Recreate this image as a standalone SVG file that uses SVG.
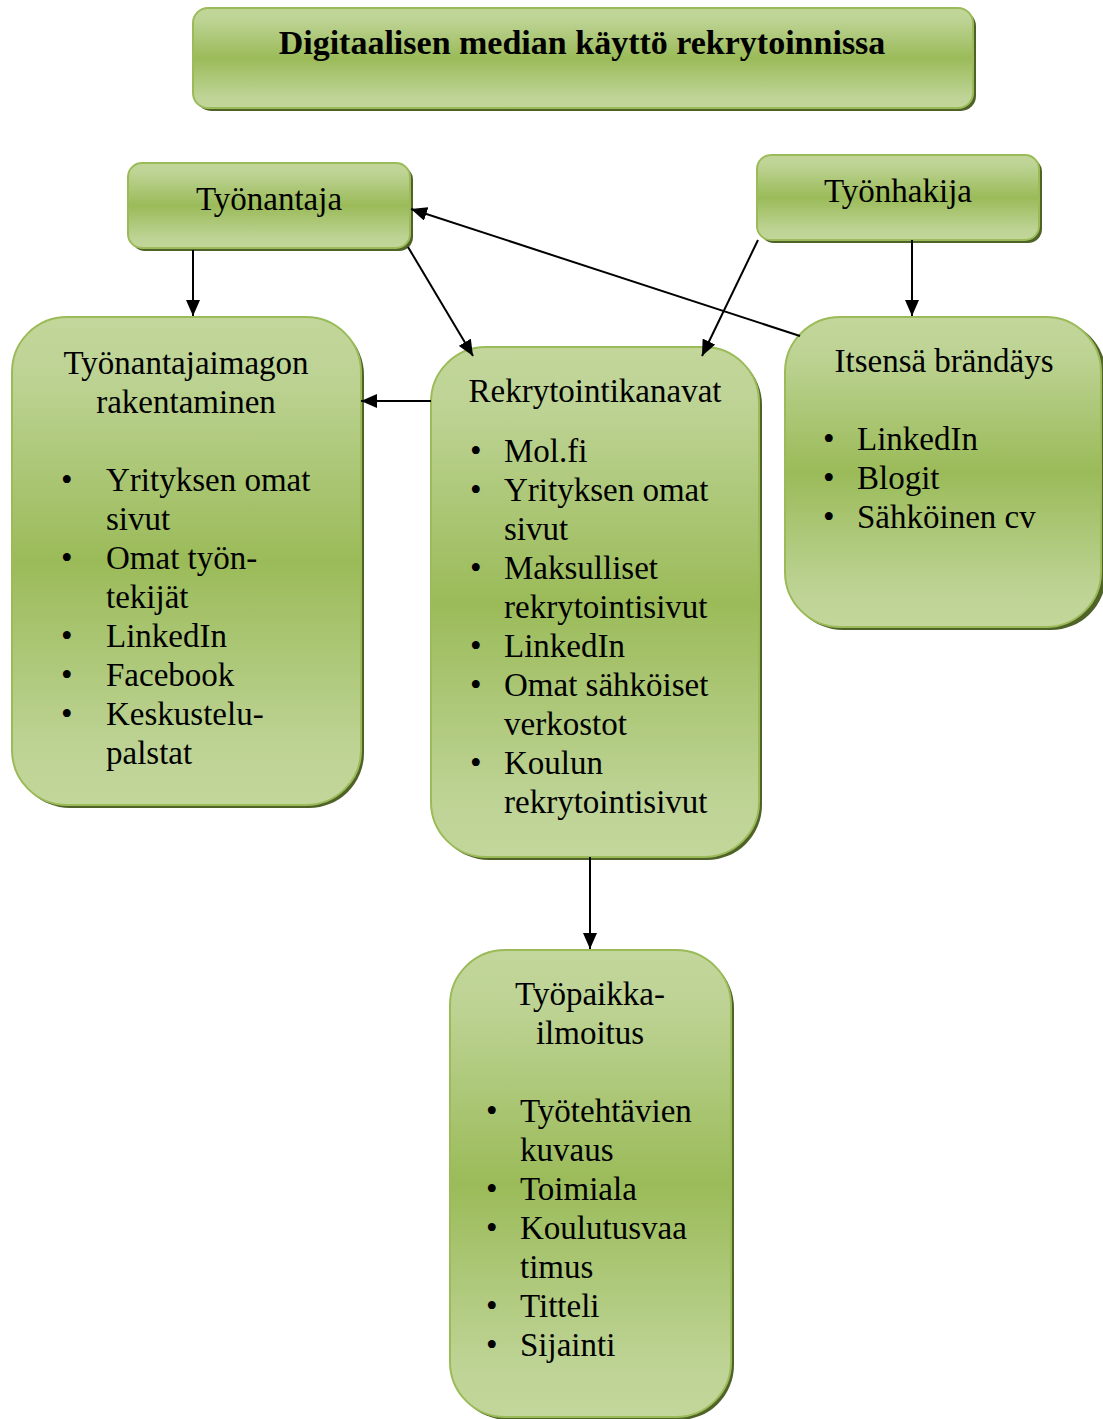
<svg xmlns="http://www.w3.org/2000/svg" width="1103" height="1419" viewBox="0 0 1103 1419">
<defs>
<linearGradient id="g" x1="0" y1="0" x2="0" y2="1">
<stop offset="0" stop-color="#c3d69b"/>
<stop offset="0.12" stop-color="#bdd394"/>
<stop offset="0.5" stop-color="#9bbb59"/>
<stop offset="0.88" stop-color="#bdd394"/>
<stop offset="1" stop-color="#c3d69b"/>
</linearGradient>
<marker id="a" viewBox="0 0 16 14" refX="16" refY="7" markerWidth="16" markerHeight="14" orient="auto" markerUnits="userSpaceOnUse">
<path d="M0,0 L16,7 L0,14 z" fill="#000"/>
</marker>
</defs>
<style>
.sh{fill:#4f6228}
.bx{fill:url(#g);stroke:#9bbb59;stroke-width:2}
text{font-family:"Liberation Serif","Times New Roman",serif;font-size:33px;fill:#000}
.t{text-anchor:middle}
.b{font-weight:bold;font-size:34px}
.c{stroke:#000;stroke-width:2;fill:none;marker-end:url(#a)}
</style>
<g id="title">
<rect class="sh" x="196" y="11" width="780" height="100" rx="15"/>
<rect class="bx" x="193" y="8" width="780" height="100" rx="15"/>
<text class="t b" x="582" y="54">Digitaalisen median käyttö rekrytoinnissa</text>
</g>
<g id="tyonantaja">
<rect class="sh" x="131" y="166" width="282" height="85" rx="14"/>
<rect class="bx" x="128" y="163" width="282" height="85" rx="14"/>
<text class="t" x="269" y="210">Työnantaja</text>
</g>
<g id="tyonhakija">
<rect class="sh" x="760" y="158" width="282" height="85" rx="14"/>
<rect class="bx" x="757" y="155" width="282" height="85" rx="14"/>
<text class="t" x="898" y="202">Työnhakija</text>
</g>
<g id="imago">
<rect class="sh" x="15" y="320" width="349" height="488" rx="55"/>
<rect class="bx" x="12" y="317" width="349" height="488" rx="55"/>
<text class="t" x="186" y="374">Työnantajaimagon</text>
<text class="t" x="186" y="413">rakentaminen</text>
<text x="61" y="491">•</text><text x="106" y="491">Yrityksen omat</text>
<text x="106" y="530">sivut</text>
<text x="61" y="569">•</text><text x="106" y="569">Omat työn-</text>
<text x="106" y="608">tekijät</text>
<text x="61" y="647">•</text><text x="106" y="647">LinkedIn</text>
<text x="61" y="686">•</text><text x="106" y="686">Facebook</text>
<text x="61" y="725">•</text><text x="106" y="725">Keskustelu-</text>
<text x="106" y="764">palstat</text>
</g>
<g id="kanavat">
<rect class="sh" x="434" y="350" width="328" height="510" rx="55"/>
<rect class="bx" x="431" y="347" width="328" height="510" rx="55"/>
<text class="t" x="595" y="402">Rekrytointikanavat</text>
<text x="470" y="462">•</text><text x="504" y="462">Mol.fi</text>
<text x="470" y="501">•</text><text x="504" y="501">Yrityksen omat</text>
<text x="504" y="540">sivut</text>
<text x="470" y="579">•</text><text x="504" y="579">Maksulliset</text>
<text x="504" y="618">rekrytointisivut</text>
<text x="470" y="657">•</text><text x="504" y="657">LinkedIn</text>
<text x="470" y="696">•</text><text x="504" y="696">Omat sähköiset</text>
<text x="504" y="735">verkostot</text>
<text x="470" y="774">•</text><text x="504" y="774">Koulun</text>
<text x="504" y="813">rekrytointisivut</text>
</g>
<g id="brandays">
<rect class="sh" x="788" y="320" width="318" height="310" rx="55"/>
<rect class="bx" x="785" y="317" width="316" height="310" rx="55"/>
<text class="t" x="944" y="372">Itsensä brändäys</text>
<text x="823" y="450">•</text><text x="857" y="450">LinkedIn</text>
<text x="823" y="489">•</text><text x="857" y="489">Blogit</text>
<text x="823" y="528">•</text><text x="857" y="528">Sähköinen cv</text>
</g>
<g id="ilmoitus">
<rect class="sh" x="453" y="953" width="281" height="467" rx="55"/>
<rect class="bx" x="450" y="950" width="281" height="467" rx="55"/>
<text class="t" x="590" y="1005">Työpaikka-</text>
<text class="t" x="590" y="1044">ilmoitus</text>
<text x="486" y="1122">•</text><text x="520" y="1122">Työtehtävien</text>
<text x="520" y="1161">kuvaus</text>
<text x="486" y="1200">•</text><text x="520" y="1200">Toimiala</text>
<text x="486" y="1239">•</text><text x="520" y="1239">Koulutusvaa</text>
<text x="520" y="1278">timus</text>
<text x="486" y="1317">•</text><text x="520" y="1317">Titteli</text>
<text x="486" y="1356">•</text><text x="520" y="1356">Sijainti</text>
</g>
<g id="connectors">
<line class="c" x1="193" y1="250" x2="193" y2="316"/>
<line class="c" x1="408" y1="247" x2="473" y2="356"/>
<line class="c" x1="758" y1="240" x2="702" y2="356"/>
<line class="c" x1="800" y1="336" x2="411" y2="209"/>
<line class="c" x1="912" y1="240" x2="912" y2="316"/>
<line class="c" x1="431" y1="401" x2="361" y2="401"/>
<line class="c" x1="590" y1="857" x2="590" y2="949"/>
</g>
</svg>
